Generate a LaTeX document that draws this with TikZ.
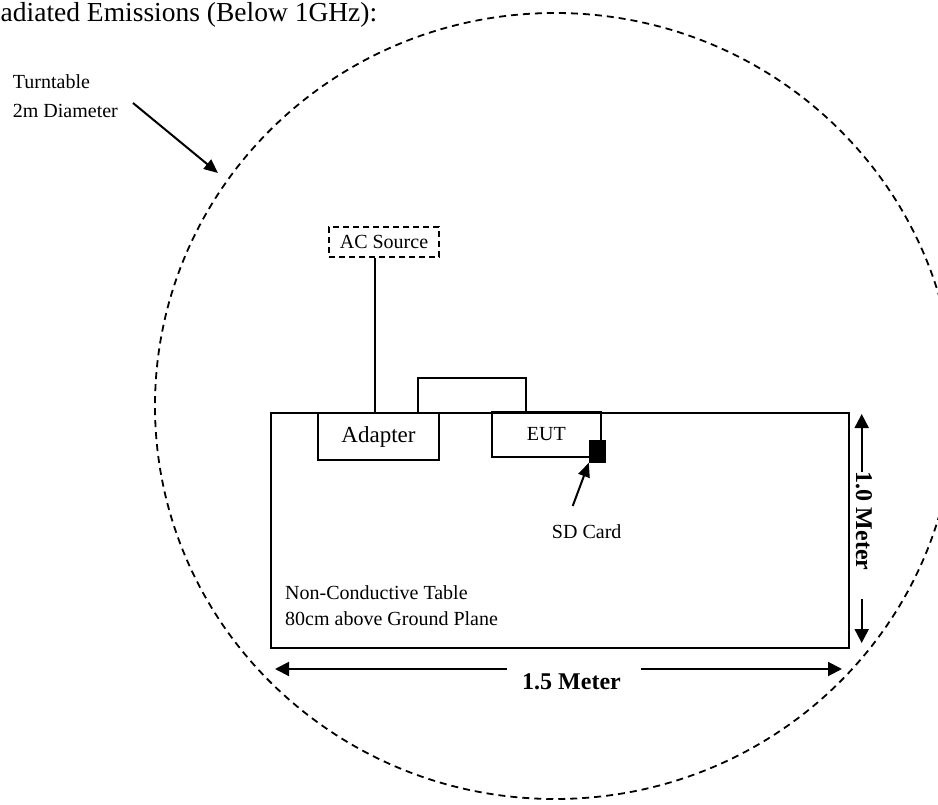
\documentclass[tikz,border=0pt]{standalone}
\usepackage{fontspec}
\setmainfont{Liberation Serif}
\usepackage{tikz}
\usetikzlibrary{positioning,arrows.meta,calc}
\tikzset{
  lbl/.style    ={inner sep=0pt, font=\fontsize{20}{26}\selectfont},
  unit/.style   ={draw, line width=1.8pt, inner sep=0pt,
                  font=\fontsize{20}{24}\selectfont},
  cable/.style  ={draw, line width=1.8pt},
  % arrow that points at something
  ptr/.style    ={draw, line width=2pt, -{Triangle[length=14pt,width=12pt]}},
  dim/.style    ={draw, line width=2pt, -{Triangle[length=14pt,width=14pt]}},
  dimlbl/.style ={inner sep=0pt, font=\fontsize{24}{28}\selectfont\bfseries},
  rim/.style    ={draw, line width=1.8pt, dash pattern=on 7pt off 5pt},
}
\begin{document}
\begin{tikzpicture}[x=1pt,y=-1pt]
\useasboundingbox (0,0) rectangle (938,805);
% turntable outline
\draw[rim] (555,406) ellipse [x radius=400pt, y radius=393pt];
\node[inner sep=0pt, anchor=base west, font=\fontsize{27.5}{33}\selectfont]
  (title) at (0.5,21.7) {adiated Emissions (Below 1GHz):};
\node[lbl, align=left, anchor=north west, font=\fontsize{20}{28.5}\selectfont]
  (ttlbl) at (12.7,74.6) {Turntable\\2m Diameter};
\coordinate (tttail) at (133,103);
\coordinate (ttedge) at (218,173);
\draw[ptr] (tttail) -- (ttedge);

% table and equipment
\node[draw, line width=2.5pt, inner sep=0pt, minimum width=578pt,
  minimum height=235pt] (table) at (560,530.4) {};
\node[unit, minimum width=121pt, minimum height=47pt,
  font=\fontsize{23}{27}\selectfont] (adapter) at (378.5,436.5) {Adapter};
\node[unit, minimum width=109pt, minimum height=45pt] (eut) at (546.3,434.5) {EUT};
\node[draw, fill, inner sep=0pt, minimum width=16pt, minimum height=22.7pt]
  (sd) at (597,451.3) {};
\node[unit, dash pattern=on 6pt off 4pt, minimum width=110pt, minimum height=30pt]
  (ac) at (384,242) {AC Source};
\draw[cable] ([xshift=-9pt]ac.south) -- ([xshift=-9pt]ac.south |- adapter.north);
\draw[cable] ([xshift=39.5pt]adapter.north) -- ++(0,-34) -| ([xshift=-20pt]eut.north);

\node[lbl] (sdlbl) at (586.7,532) {SD Card};
\coordinate (sdtail) at (572.7,506);
\draw[ptr] (sdtail) -- (sd.south west);

\node[lbl, align=left, anchor=north west] (tablelbl) at (285,585.3)
  {Non-Conductive Table\\80cm above Ground Plane};

% dimensions
\coordinate (wl) at (275,669);
\coordinate (wr) at (842,669);
\node[dimlbl, anchor=north] (wlab) at (571.5,673.5) {1.5 Meter};
\draw[dim] ($(wlab.west |- wl)+(-15,0)$) -- (wl);
\draw[dim] ($(wlab.east |- wr)+(20,0)$) -- (wr);
\coordinate (ht) at (861.7,414);
\coordinate (hb) at (861.7,643);
\node[dimlbl, rotate=-90] (hlab) at (864,521) {1.0 Meter};
\draw[dim] (hlab.west -| ht) -- (ht);
\draw[dim] ($(hlab.east -| hb)+(0,28)$) -- (hb);
\end{tikzpicture}
\end{document}
